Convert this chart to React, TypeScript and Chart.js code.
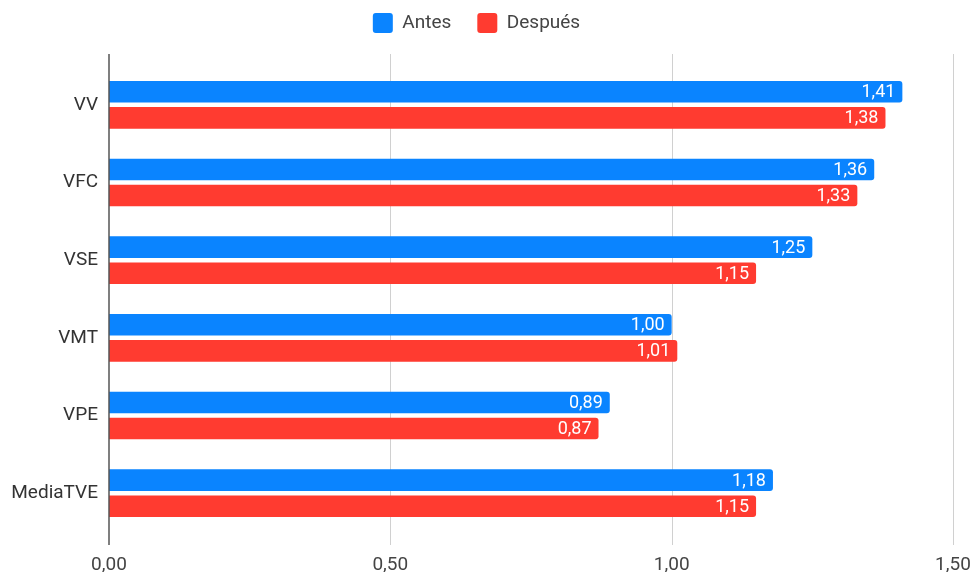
import React, { useEffect, useRef } from "react";
import { Chart, registerables } from "chart.js";

Chart.register(...registerables);

const categories = ["VV", "VFC", "VSE", "VMT", "VPE", "MediaTVE"];
const antes = [1.41, 1.36, 1.25, 1.0, 0.89, 1.18];
const despues = [1.38, 1.33, 1.15, 1.01, 0.87, 1.15];
const xTicks = [0, 0.5, 1.0, 1.5];

const BLUE = "#0A84FF";
const RED = "#FF3B30";
const FONT = "Roboto";

const fmt = (v: number) => v.toFixed(2).replace(".", ",");

const legendHeightPlugin = {
  id: "legendHeight",
  beforeLayout(chart: any) {
    const lg = chart.legend;
    if (lg && !lg.__patched) {
      const orig = lg.fit.bind(lg);
      lg.fit = function () {
        orig();
        this.height = 79;
      };
      lg.__patched = true;
    }
  },
};

const gridPlugin = {
  id: "extGrid",
  beforeDatasetsDraw(chart: any) {
    const { ctx, chartArea, scales } = chart;
    const xs = scales.x;
    ctx.save();
    xTicks.forEach((t) => {
      if (t === 0) return;
      const px = Math.round(xs.getPixelForValue(t)) + 0.5;
      ctx.strokeStyle = "#d0d0d0";
      ctx.lineWidth = 1;
      ctx.beginPath();
      ctx.moveTo(px, chartArea.top - 12);
      ctx.lineTo(px, chartArea.bottom + 13);
      ctx.stroke();
    });
    ctx.restore();
  },
  afterDatasetsDraw(chart: any) {
    const { ctx, chartArea, scales } = chart;
    const xs = scales.x;
    ctx.save();
    const px = xs.getPixelForValue(0);
    ctx.strokeStyle = "#555";
    ctx.lineWidth = 1.5;
    ctx.beginPath();
    ctx.moveTo(px, chartArea.top - 12);
    ctx.lineTo(px, chartArea.bottom + 13);
    ctx.stroke();

    ctx.font = `18px ${FONT}`;
    ctx.fillStyle = "#ffffff";
    ctx.textAlign = "right";
    ctx.textBaseline = "middle";
    chart.data.datasets.forEach((ds: any, di: number) => {
      const meta = chart.getDatasetMeta(di);
      meta.data.forEach((bar: any, i: number) => {
        ctx.fillText(fmt(ds.data[i]), bar.x - 7, bar.y + 1);
      });
    });
    ctx.restore();
  },
};

export default function App() {
  const ref = useRef<HTMLCanvasElement | null>(null);
  useEffect(() => {
    if (!ref.current) return;
    const chart = new Chart(ref.current, {
      type: "bar",
      data: {
        labels: categories,
        datasets: [
          {
            label: "Antes",
            data: antes,
            backgroundColor: BLUE,
            borderRadius: 3,
            borderSkipped: "start",
            categoryPercentage: 0.67,
            barPercentage: 0.83,
          },
          {
            label: "Después",
            data: despues,
            backgroundColor: RED,
            borderRadius: 3,
            borderSkipped: "start",
            categoryPercentage: 0.67,
            barPercentage: 0.83,
          },
        ],
      },
      options: {
        indexAxis: "y",
        animation: false,
        responsive: true,
        maintainAspectRatio: false,
        layout: { padding: { left: 0, right: 20, top: -13, bottom: 0 } },
        plugins: {
          tooltip: { enabled: false },
          legend: {
            position: "top",
            labels: {
              font: { family: FONT, size: 19 },
              color: "#444",
              boxWidth: 20,
              boxHeight: 20,
              padding: 26,
              useBorderRadius: true,
              borderRadius: 3,
            },
          },
        },
        scales: {
          x: {
            min: 0,
            max: 1.5,
            afterBuildTicks(scale: any) {
              scale.ticks = xTicks.map((v) => ({ value: v }));
            },
            afterFit(scale: any) {
              scale.height = 40;
              scale.paddingRight = 0;
              scale.paddingLeft = 0;
            },
            grid: { display: false, drawTicks: false },
            border: { display: false },
            ticks: {
              padding: 22,
              color: "#444",
              font: { family: FONT, size: 19 },
              callback: (v: any) => fmt(Number(v)),
            },
          },
          y: {
            grid: { display: false, drawTicks: false },
            border: { display: false },
            afterFit(scale: any) {
              scale.width = 109;
            },
            ticks: {
              padding: 11,
              color: "#333",
              font: { family: FONT, size: 19 },
            },
          },
        },
      },
      plugins: [legendHeightPlugin, gridPlugin],
    });
    return () => chart.destroy();
  }, []);
  return (
    <div style={{ position: "fixed", left: 0, top: 0, width: 973, height: 572, background: "#fff" }}>
      <canvas ref={ref} />
    </div>
  );
}
